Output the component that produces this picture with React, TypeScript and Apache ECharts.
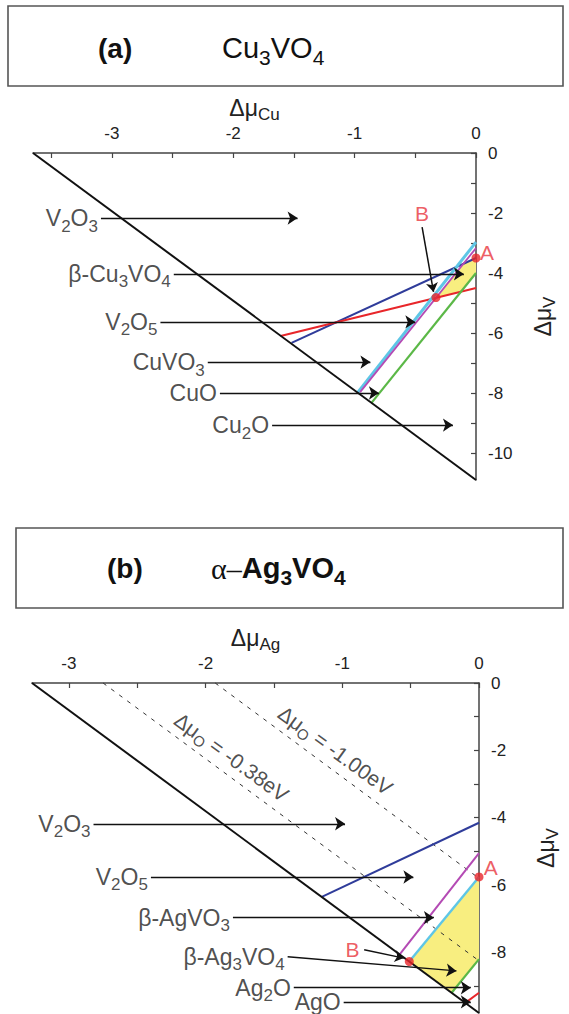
import React, { useEffect, useRef } from "react";
import * as echarts from "echarts";

const FONT = '"Liberation Sans", Arial, Helvetica, sans-serif';
const SERIF = '"Liberation Serif", "DejaVu Serif", serif';

// ---------------- Panel (a): Cu3VO4 ----------------
const aXMin = -3.65;
const aYMin = -10.9;
const aXTickLabels = [-3, -2, -1, 0];
const aXTicks = [-3.5, -3, -2.5, -2, -1.5, -1, -0.5, 0];
const aYTickLabels = [0, -2, -4, -6, -8, -10];
const aYTicks = [0, -1, -2, -3, -4, -5, -6, -7, -8, -9, -10];
const aBoundary = [[-3.65, 0], [0, -10.9]];
const aBlue = [[-1.52, -6.33], [0, -3.5]];
const aRed = [[-1.61, -6.1], [0, -4.5]];
const aCyan = [[-0.976, -7.99], [0, -2.97]];
const aMagenta = [[-0.955, -7.97], [0, -3.17]];
const aGreen = [[-0.861, -8.33], [0, -4.0]];
const aStable = [[0, -3.5], [-0.103, -3.69], [-0.328, -4.82], [-0.123, -4.62], [0, -4.0]];
const aPoints = [[0, -3.5], [-0.33, -4.82]];
const aPhases = ["V_2O_3", "β-Cu_3VO_4", "V_2O_5", "CuVO_3", "CuO", "Cu_2O"];
const aArrowFrom = [[-3.09, -2.17], [-2.49, -4.03], [-2.6, -5.63], [-2.21, -6.97], [-2.11, -8.0], [-1.68, -9.07]];
const aArrowTo = [[-1.47, -2.17], [-0.1, -4.03], [-0.5, -5.63], [-0.87, -6.97], [-0.8, -8.0], [-0.19, -9.07]];
const aPointerFrom = [[-0.444, -2.47]];
const aPointerTo = [[-0.35, -4.63]];
const aMarkNames = ["A", "B"];
const aMarkAt = [[0.09, -3.33], [-0.444, -2.0]];

// ---------------- Panel (b): alpha-Ag3VO4 ----------------
const bXMin = -3.27;
const bYMin = -9.8;
const bXTickLabels = [-3, -2, -1, 0];
const bXTicks = [-3, -2.5, -2, -1.5, -1, -0.5, 0];
const bYTickLabels = [0, -2, -4, -6, -8];
const bYTicks = [0, -1, -2, -3, -4, -5, -6, -7, -8, -9];
const bBoundary = [[-3.27, 0], [0, -9.8]];
const bBlue = [[-1.15, -6.35], [0, -4.15]];
const bMagenta = [[-0.58, -8.06], [0, -5.05]];
const bCyan = [[-0.51, -8.27], [0, -5.76]];
const bGreen = [[-0.2, -9.2], [0, -8.2]];
const bRed = [[-0.1, -9.5], [0, -9.2]];
const bStable = [[0, -5.76], [-0.51, -8.27], [-0.2, -9.2], [0, -8.2]];
const bMuO038 = [[-2.75, 0], [0, -8.25]];
const bMuO100 = [[-1.93, 0], [0, -5.8]];
const bMuOText = ["Δμ_O = -0.38eV", "Δμ_O = -1.00eV"];
const bMuOAt = [[-1.81, -2.2], [-1.05, -2.0]];
const bPoints = [[0, -5.76], [-0.51, -8.27]];
const bPhases = ["V_2O_3", "V_2O_5", "β-AgVO_3", "β-Ag_3VO_4", "Ag_2O", "AgO"];
const bArrowFrom = [[-2.82, -4.18], [-2.4, -5.76], [-1.8, -6.97], [-1.4, -8.13], [-1.355, -9.05], [-0.99, -9.47]];
const bArrowTo = [[-0.98, -4.18], [-0.48, -5.76], [-0.33, -6.97], [-0.165, -8.55], [-0.06, -9.05], [-0.06, -9.47]];
const bPointerFrom = [[-0.84, -7.92]];
const bPointerTo = [[-0.55, -8.17]];
const bMarkNames = ["A", "B"];
const bMarkAt = [[0.086, -5.49], [-0.925, -7.92]];

const C = {
  blue: "#2f3c9a",
  red: "#e8262a",
  cyan: "#5ec6e6",
  magenta: "#b44ab4",
  green: "#5bb847",
  yellow: "#f8ee80",
  axis: "#444",
  text: "#222",
  mark: "#e8343c",
};

const richify = (s: string) => {
  let out = "";
  let buf = "";
  for (let i = 0; i < s.length; i++) {
    if (s[i] === "_" && i + 1 < s.length) {
      if (buf) out += "{n|" + buf + "}";
      buf = "";
      out += "{s|" + s[i + 1] + "}";
      i++;
    } else buf += s[i];
  }
  if (buf) out += "{n|" + buf + "}";
  return out;
};

const labelRich = {
  n: { fontSize: 23, fontFamily: FONT, color: C.text },
  s: { fontSize: 17, fontFamily: FONT, color: C.text, padding: [16, 0, 0, 0] },
};

function xAxis(grid: number, min: number, ticks: number[], labels: number[], sub: string) {
  return {
    type: "value",
    gridIndex: grid,
    position: "top",
    min,
    max: 0,
    name: "{a|Δμ}{s|" + sub + "}",
    nameLocation: "middle",
    nameGap: 30,
    nameTextStyle: {
      rich: {
        a: { fontSize: 23, fontFamily: FONT, color: C.text },
        s: { fontSize: 17, fontFamily: FONT, color: C.text, padding: [13, 0, 0, 0] },
      },
    },
    axisLine: { show: true, onZero: false, lineStyle: { color: C.axis, width: 1.5 } },
    axisTick: { show: true, inside: true, length: 5, customValues: ticks, lineStyle: { color: C.axis, width: 1.2 } },
    axisLabel: { customValues: labels, margin: 11, fontSize: 17, color: "#222", fontFamily: FONT },
    splitLine: { show: false },
  };
}

function yAxis(grid: number, min: number, ticks: number[], labels: number[]) {
  return {
    type: "value",
    gridIndex: grid,
    position: "right",
    min,
    max: 0,
    name: "{a|Δμ}{s|V}",
    nameLocation: "middle",
    nameRotate: 90,
    nameGap: 52,
    nameTextStyle: {
      rich: {
        a: { fontSize: 23, fontFamily: FONT, color: C.text },
        s: { fontSize: 17, fontFamily: FONT, color: C.text, padding: [13, 0, 0, 0] },
      },
    },
    axisLine: { show: true, onZero: false, lineStyle: { color: C.axis, width: 1.5 } },
    axisTick: { show: true, inside: true, length: 5, customValues: ticks, lineStyle: { color: C.axis, width: 1.2 } },
    axisLabel: { customValues: labels, margin: 12, fontSize: 17, color: "#222", fontFamily: FONT },
    splitLine: { show: false },
  };
}

function seg(i: number, data: number[][], color: string, width: number, z = 4, dashed = false) {
  return {
    type: "line",
    xAxisIndex: i,
    yAxisIndex: i,
    data,
    symbol: "none",
    silent: true,
    clip: false,
    z,
    lineStyle: { color, width, type: dashed ? [4, 6] : "solid" },
  };
}

function panelSeries(i: number, p: any) {
  const s: any[] = [];
  s.push({
    type: "custom",
    xAxisIndex: i,
    yAxisIndex: i,
    data: [[0, 0]],
    silent: true,
    z: 1,
    renderItem: (_params: any, api: any) => ({
      type: "polygon",
      shape: { points: p.stable.map((pt: number[]) => api.coord(pt)) },
      style: { fill: C.yellow },
    }),
  });
  (p.dashed || []).forEach((d: number[][]) => s.push(seg(i, d, "#333", 1, 2, true)));
  s.push(seg(i, p.boundary, "#111", 2, 5));
  p.lines.forEach((l: any) => s.push(seg(i, l.data, l.color, l.width, 4)));
  s.push({
    type: "lines",
    coordinateSystem: "cartesian2d",
    xAxisIndex: i,
    yAxisIndex: i,
    silent: true,
    z: 6,
    symbol: ["none", "arrow"],
    symbolSize: 10,
    lineStyle: { color: "#111", width: 1.3, opacity: 1 },
    data: p.from.map((f: number[], k: number) => ({ coords: [f, p.to[k]] })),
  });
  s.push({
    type: "scatter",
    xAxisIndex: i,
    yAxisIndex: i,
    symbolSize: 0,
    silent: true,
    clip: false,
    z: 7,
    label: {
      show: true,
      position: "left",
      distance: 3,
      formatter: (d: any) => richify(d.name),
      rich: labelRich,
    },
    data: p.phases.map((n: string, k: number) => ({ name: n, value: p.from[k] })),
  });
  s.push({
    type: "lines",
    coordinateSystem: "cartesian2d",
    xAxisIndex: i,
    yAxisIndex: i,
    silent: true,
    z: 6,
    symbol: ["none", "arrow"],
    symbolSize: 9,
    lineStyle: { color: "#111", width: 1.5, opacity: 1 },
    data: p.pFrom.map((f: number[], k: number) => ({ coords: [f, p.pTo[k]] })),
  });
  s.push({
    type: "scatter",
    xAxisIndex: i,
    yAxisIndex: i,
    symbolSize: 9,
    silent: true,
    clip: false,
    z: 8,
    itemStyle: { color: C.red },
    data: p.points,
  });
  s.push({
    type: "scatter",
    xAxisIndex: i,
    yAxisIndex: i,
    symbolSize: 0,
    silent: true,
    clip: false,
    z: 8,
    label: { show: true, position: "inside", formatter: "{b}", fontSize: 21, fontFamily: FONT, color: C.mark },
    data: p.markNames.map((n: string, k: number) => ({ name: n, value: p.markAt[k] })),
  });
  if (p.muText) {
    s.push({
      type: "scatter",
      xAxisIndex: i,
      yAxisIndex: i,
      symbolSize: 0,
      silent: true,
      clip: false,
      z: 3,
      label: {
        show: true,
        position: "inside",
        rotate: -36,
        formatter: (d: any) => richify(d.name),
        rich: {
          n: { fontSize: 21, fontFamily: FONT, color: "#222" },
          s: { fontSize: 15, fontFamily: FONT, color: "#222", padding: [12, 0, 0, 0] },
        },
      },
      data: p.muText.map((n: string, k: number) => ({ name: n, value: p.muAt[k] })),
    });
  }
  return s;
}

export default function App() {
  const ref = useRef<HTMLDivElement>(null);
  useEffect(() => {
    document.body.style.margin = "0";
    if (!ref.current) return;
    const chart = echarts.init(ref.current, null, { renderer: "svg" });
    const seriesA = panelSeries(0, {
      stable: aStable,
      boundary: aBoundary,
      lines: [
        { data: aBlue, color: C.blue, width: 2 },
        { data: aRed, color: C.red, width: 2 },
        { data: aGreen, color: C.green, width: 2.2 },
        { data: aCyan, color: C.cyan, width: 3 },
        { data: aMagenta, color: C.magenta, width: 1.8 },
      ],
      from: aArrowFrom,
      to: aArrowTo,
      phases: aPhases,
      pFrom: aPointerFrom,
      pTo: aPointerTo,
      points: aPoints,
      markNames: aMarkNames,
      markAt: aMarkAt,
    });
    const seriesB = panelSeries(1, {
      stable: bStable,
      boundary: bBoundary,
      dashed: [bMuO038, bMuO100],
      lines: [
        { data: bBlue, color: C.blue, width: 2 },
        { data: bMagenta, color: C.magenta, width: 2 },
        { data: bCyan, color: C.cyan, width: 2.4 },
        { data: bGreen, color: C.green, width: 2.2 },
        { data: bRed, color: C.red, width: 2 },
      ],
      from: bArrowFrom,
      to: bArrowTo,
      phases: bPhases,
      pFrom: bPointerFrom,
      pTo: bPointerTo,
      points: bPoints,
      markNames: bMarkNames,
      markAt: bMarkAt,
      muText: bMuOText,
      muAt: bMuOAt,
    });
    chart.setOption({
      animation: false,
      backgroundColor: "#fff",
      textStyle: { fontFamily: FONT },
      grid: [
        { left: 33, top: 153, width: 443, height: 327 },
        { left: 32, top: 683, width: 456, height: 330 },
      ],
      xAxis: [
        xAxis(0, aXMin, aXTicks, aXTickLabels, "Cu"),
        xAxis(1, bXMin, bXTicks, bXTickLabels, "Ag"),
      ],
      yAxis: [yAxis(0, aYMin, aYTicks, aYTickLabels), yAxis(1, bYMin, bYTicks, bYTickLabels)],
      graphic: [
        { type: "rect", shape: { x: 8, y: 6, width: 555, height: 80 }, style: { fill: "#fff", stroke: "#555", lineWidth: 1.6 } },
        {
          type: "text",
          x: 98,
          y: 48,
          style: { text: "(a)", fontSize: 28, fontWeight: "bold", fontFamily: FONT, fill: "#111", verticalAlign: "middle" },
        },
        {
          type: "text",
          x: 222,
          y: 48,
          style: {
            text: "{n|Cu}{s|3}{n|VO}{s|4}",
            fontFamily: FONT,
            fill: "#111",
            verticalAlign: "middle",
            rich: {
              n: { fontSize: 29, fontFamily: FONT, fill: "#111" },
              s: { fontSize: 21, fontFamily: FONT, fill: "#111", padding: [18, 0, 0, 0] },
            },
          },
        },
        { type: "rect", shape: { x: 16, y: 528, width: 547, height: 80 }, style: { fill: "#fff", stroke: "#555", lineWidth: 1.6 } },
        {
          type: "text",
          x: 107,
          y: 568,
          style: { text: "(b)", fontSize: 28, fontWeight: "bold", fontFamily: FONT, fill: "#111", verticalAlign: "middle" },
        },
        {
          type: "text",
          x: 211,
          y: 568,
          style: {
            text: "{g|α–}{b|Ag}{s|3}{b|VO}{s|4}",
            fontFamily: FONT,
            fill: "#111",
            verticalAlign: "middle",
            rich: {
              g: { fontSize: 30, fontFamily: SERIF, fill: "#111" },
              b: { fontSize: 29, fontWeight: "bold", fontFamily: FONT, fill: "#111" },
              s: { fontSize: 21, fontWeight: "bold", fontFamily: FONT, fill: "#111", padding: [18, 0, 0, 0] },
            },
          },
        },
      ],
      series: [...seriesA, ...seriesB],
    });
    return () => chart.dispose();
  }, []);
  return <div ref={ref} style={{ width: 569, height: 1014 }} />;
}
